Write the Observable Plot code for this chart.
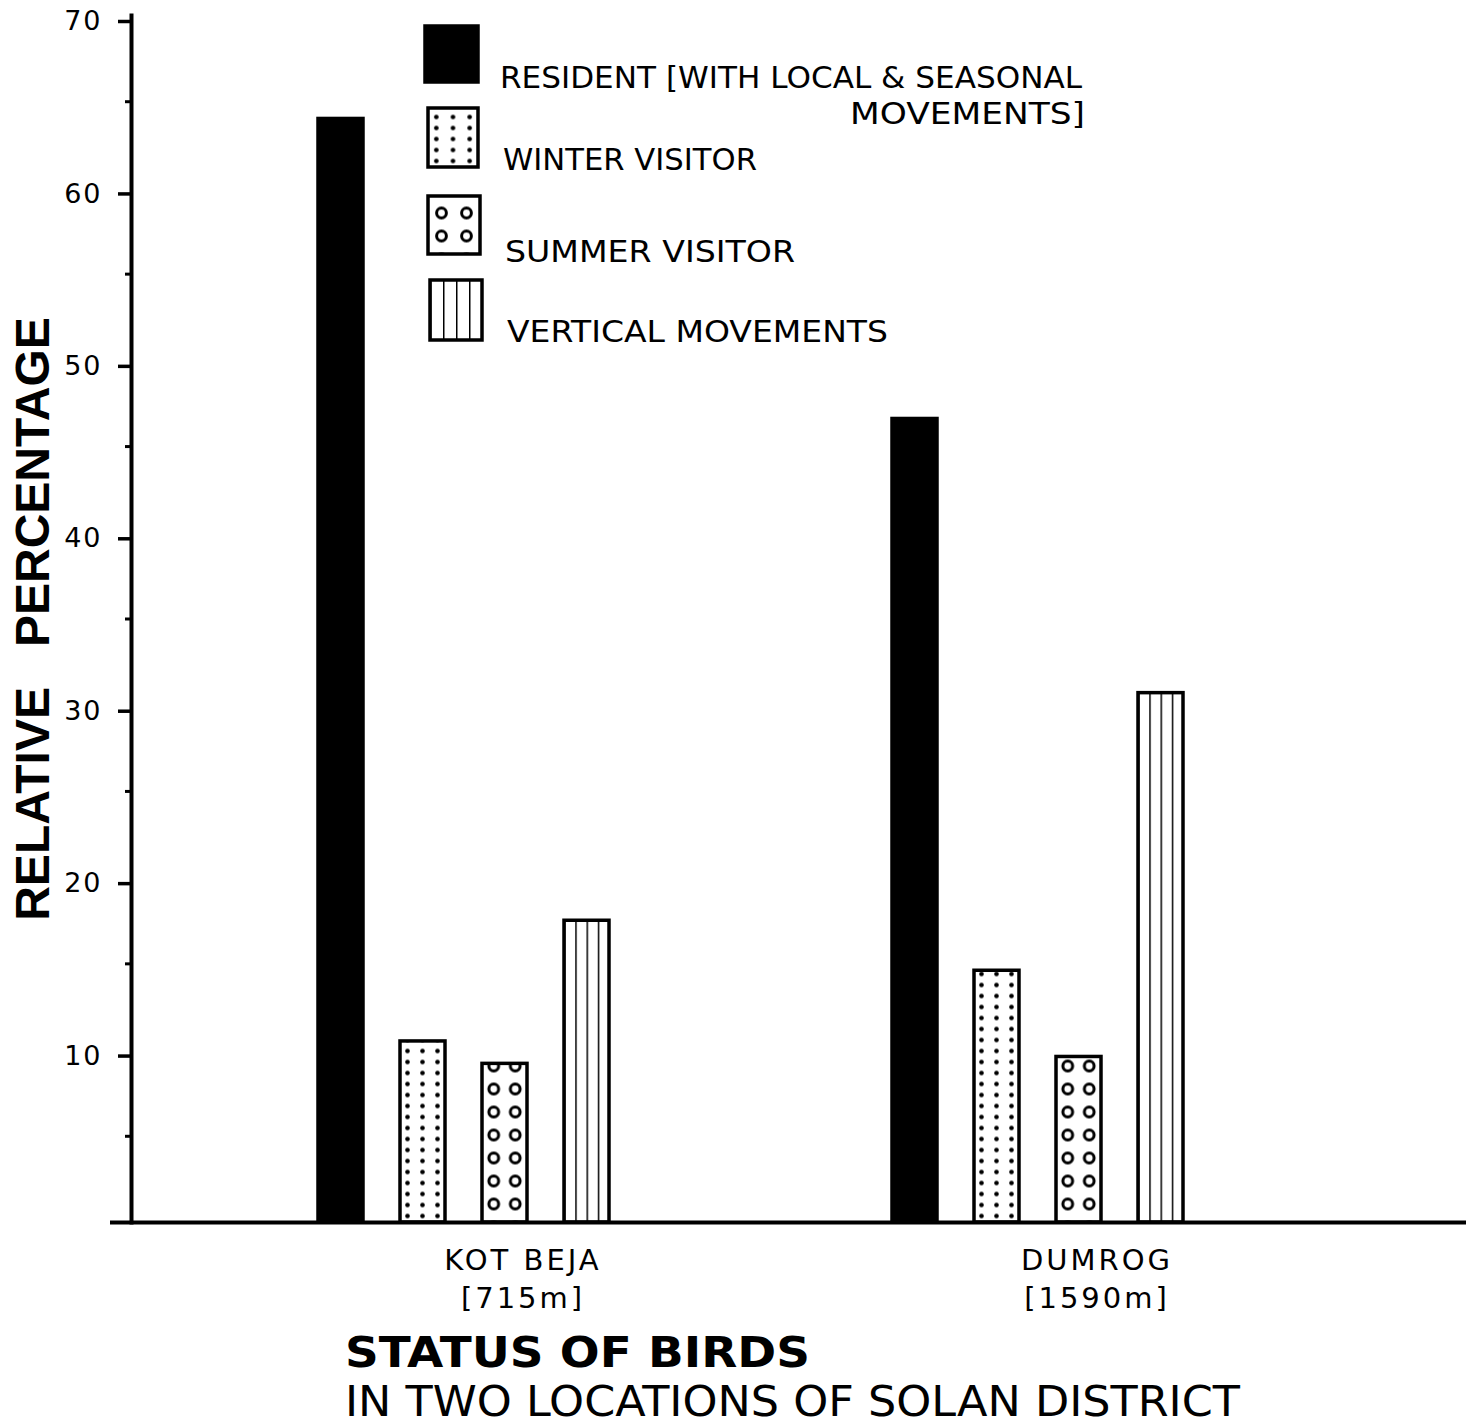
<!DOCTYPE html>
<html><head><meta charset="utf-8">
<script src="https://cdn.jsdelivr.net/npm/d3@7"></script>
<script src="https://cdn.jsdelivr.net/npm/@observablehq/plot@0.6"></script>
<style>
body{margin:0;background:#fff;}
#wrap{position:relative;width:1478px;height:1310px;}
#legend{position:absolute;left:0;top:0;pointer-events:none;}
svg text{fill:#000;}
</style></head><body>
<div id="wrap"><div id="chart"></div><svg id="legend" width="1478" height="360"></svg></div>
<svg id="title" width="1478" height="116" style="display:block"></svg>
<script>
// ---- data ----
const locations = ["KOT BEJA", "DUMROG"];
const altitudes = ["[715m]", "[1590m]"];
const statuses = ["RESIDENT", "WINTER VISITOR", "SUMMER VISITOR", "VERTICAL MOVEMENTS"];
const kotbejaValues = [64.0, 10.5, 9.2, 17.5];
const dumrogValues = [46.6, 14.6, 9.6, 30.7];
const yMajorTicks = [10, 20, 30, 40, 50, 60, 70];
const yMinorTicks = [5, 15, 25, 35, 45, 55, 65];
const gapSlots = ["gap1", "gap2", "gap3"];
const legendLines = ["RESIDENT [WITH LOCAL & SEASONAL", "MOVEMENTS]", "WINTER VISITOR", "SUMMER VISITOR", "VERTICAL MOVEMENTS"];
const yLabel = "RELATIVE   PERCENTAGE";
const titleLines = ["STATUS OF BIRDS", "IN TWO LOCATIONS OF SOLAN DISTRICT"];

const FONT = "'DejaVu Sans', sans-serif";
const FONT2 = "'Liberation Sans', Arial, sans-serif";
const kinds = ["solid", "dots", "rings", "lines"];

const valuesByLocation = [kotbejaValues, dumrogValues];
const table = locations.flatMap((loc, li) => statuses.map((s, si) => ({
  location: loc, status: s, key: loc + "|" + s, value: valuesByLocation[li][si]
})));
const xDomain = [...statuses.map(s => locations[0] + "|" + s), ...gapSlots, ...statuses.map(s => locations[1] + "|" + s)];
const fills = ["black", "url(#p-dots)", "url(#p-rings)", "url(#p-lines)"];

function addPattern(defs, id, kind, x0, yBottom, w) {
  const p = defs.append("pattern").attr("id", id).attr("patternUnits", "userSpaceOnUse");
  if (kind === "dots") {
    const tw = w / 3, th = 11;
    p.attr("x", x0).attr("y", yBottom - 11.5).attr("width", tw).attr("height", th);
    p.append("rect").attr("width", tw).attr("height", th).attr("fill", "white");
    p.append("circle").attr("cx", tw / 2).attr("cy", th / 2).attr("r", 2.3).attr("fill", "black");
  } else if (kind === "rings") {
    const tw = (w - 2) / 2, th = 23;
    p.attr("x", x0 + 1).attr("y", yBottom - 18 - th / 2).attr("width", tw).attr("height", th);
    p.append("rect").attr("width", tw).attr("height", th).attr("fill", "white");
    p.append("circle").attr("cx", tw / 2).attr("cy", th / 2).attr("r", 4.9).attr("fill", "white").attr("stroke", "black").attr("stroke-width", 3);
  } else if (kind === "lines") {
    const tw = w / 4, th = 10;
    p.attr("x", x0).attr("y", 0).attr("width", tw).attr("height", th);
    p.append("rect").attr("width", tw).attr("height", th).attr("fill", "white");
    p.append("line").attr("x1", 0).attr("x2", 0).attr("y1", 0).attr("y2", th).attr("stroke", "black").attr("stroke-width", 3);
  }
}

const plot = Plot.plot({
  width: 1478, height: 1310,
  marginTop: 15, marginBottom: 88, marginLeft: 131, marginRight: 12,
  style: {fontFamily: FONT, background: "white", color: "black", overflow: "visible"},
  x: {type: "band", domain: xDomain, paddingInner: 0.454, paddingOuter: 2.82, align: 0.397, axis: null},
  y: {domain: [0, 70], axis: null},
  color: {domain: statuses, range: fills},
  marks: [
    Plot.barY(table, {x: "key", y: "value", fill: "status", stroke: "black", strokeWidth: 3.5}),
    Plot.ruleY([0], {strokeWidth: 4, insetLeft: -21}),
    Plot.frame({anchor: "left", strokeWidth: 4}),
    Plot.axisY(yMinorTicks, {tickSize: 6, tickFormat: () => "", strokeWidth: 3, label: null}),
    Plot.axisY(yMajorTicks, {tickSize: 13, tickPadding: 16, strokeWidth: 3.5, fontSize: 27, dy: 6, label: null, tickFormat: d => String(d)}),
    Plot.text([yLabel], {text: d => d, frameAnchor: "left", textAnchor: "middle", rotate: -90, dx: -98, fontSize: 48, fontWeight: "bold", fontFamily: FONT2}),
    Plot.text(locations, {x: d => d + "|" + statuses[2], y: 0, text: (d, i) => d + "\n" + altitudes[i], dx: 18, dy: 20, lineAnchor: "top", fontSize: 29, lineHeight: 1.33})
  ]
});
document.getElementById("chart").appendChild(plot);

const svg = d3.select(plot.tagName.toLowerCase() === "svg" ? plot : plot.querySelector("svg"));

// letter spacing for hand-lettered look
svg.selectAll("text").filter(function () {
  const t = this.textContent;
  return locations.some(l => t.startsWith(l)) || yMajorTicks.some(v => t === String(v));
}).style("letter-spacing", function () {
  return locations.some(l => this.textContent.startsWith(l)) ? "3px" : "2px";
});

// per-bar aligned patterns
const defs = svg.insert("defs", ":first-child");
let n = 0;
svg.selectAll('g[aria-label="bar"] rect').each(function () {
  const r = d3.select(this);
  const f = r.attr("fill") || "";
  const idx = fills.indexOf(f);
  if (idx <= 0) return;
  const x0 = +r.attr("x"), w = +r.attr("width"), yb = +r.attr("y") + +r.attr("height");
  const id = "bp" + (n++);
  addPattern(defs, id, kinds[idx], x0, yb, w);
  r.attr("fill", `url(#${id})`);
});

// legend
const lg = d3.select("#legend");
const ldefs = lg.append("defs");
const swatches = [[425, 26, 53, 56], [428, 108, 50, 59], [428, 196, 52, 58], [430, 280, 52, 60]];
statuses.forEach((s, i) => {
  const [x, y, w, h] = swatches[i];
  let fill = "black";
  if (i > 0) { addPattern(ldefs, "lp" + i, kinds[i], x, y + h, w); fill = `url(#lp${i})`; }
  lg.append("rect").attr("x", x).attr("y", y).attr("width", w).attr("height", h).attr("fill", fill).attr("stroke", "black").attr("stroke-width", 3.5);
});
const legendText = [[500, 88, 582], [850, 124, 235], [503, 170, 254], [505, 262, 290], [507, 342, 381]];
legendLines.forEach((t, i) => {
  const [x, y, len] = legendText[i];
  lg.append("text").attr("x", x).attr("y", y).attr("font-family", FONT).attr("font-size", 30)
    .attr("textLength", len).attr("lengthAdjust", "spacingAndGlyphs").text(t);
});

// title
const tg = d3.select("#title");
tg.append("text").attr("x", 345).attr("y", 57).attr("font-family", FONT).attr("font-size", 42).attr("font-weight", "bold")
  .attr("textLength", 465).attr("lengthAdjust", "spacingAndGlyphs").text(titleLines[0]);
tg.append("text").attr("x", 345).attr("y", 106).attr("font-family", FONT).attr("font-size", 42)
  .attr("textLength", 895).attr("lengthAdjust", "spacingAndGlyphs").text(titleLines[1]);
</script>
</body></html>
